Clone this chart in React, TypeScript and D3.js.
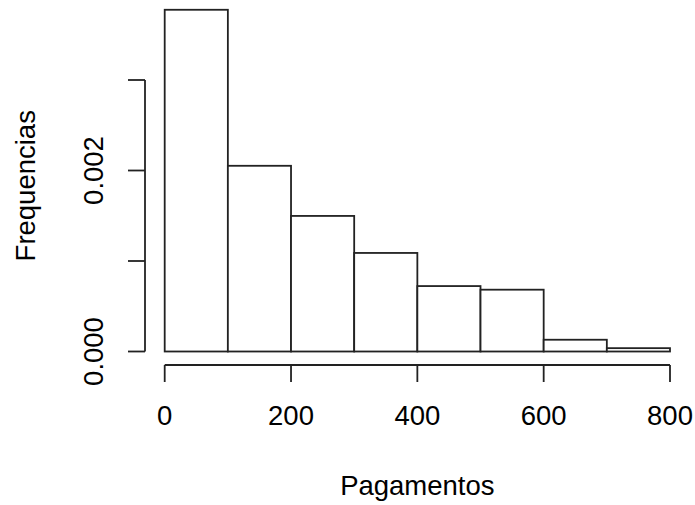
import React from "react";
import * as d3 from "d3";

const breaks = [0, 100, 200, 300, 400, 500, 600, 700, 800];
const density = [0.003776, 0.002052, 0.001498, 0.001089, 0.000723, 0.000683, 0.00013, 0.000037];
const xTicks = [0, 200, 400, 600, 800];
const yTicks = [0, 0.001, 0.002, 0.003];
const yLabels = [0, 0.002];
const xTitle = "Pagamentos";
const yTitle = "Frequencias";

export default function App() {
  const W = 695, H = 505;
  const x = d3.scaleLinear().domain([0, 800]).range([164.7, 670]);
  const y = d3.scaleLinear().domain([0, 0.003]).range([351.5, 80]);
  const font = "'Liberation Sans', Arial, Helvetica, sans-serif";
  const fs = 27.5;
  const stroke = "#222";
  const axisX = 145;
  const axisY = 365;
  const tick = 17;
  const bars = density.map((d, i) => ({ x0: breaks[i], x1: breaks[i + 1], d }));
  return (
    <svg width={W} height={H} style={{ position: "absolute", left: 0, top: 0, background: "#fff" }}
      fontFamily={font}>
      <rect x={0} y={0} width={W} height={H} fill="#fff" />
      {bars.map((b, i) => (
        <rect key={i} x={x(b.x0)} y={y(b.d)} width={x(b.x1) - x(b.x0)} height={y(0) - y(b.d)}
          fill="#fff" stroke={stroke} strokeWidth={1.8} />
      ))}
      {/* x axis */}
      <line x1={x(0)} x2={x(800)} y1={axisY} y2={axisY} stroke={stroke} strokeWidth={1.8} />
      {xTicks.map((t) => (
        <g key={t}>
          <line x1={x(t)} x2={x(t)} y1={axisY} y2={axisY + tick} stroke={stroke} strokeWidth={1.8} />
          <text x={x(t)} y={425} textAnchor="middle" fontSize={fs} fill="#000">{t}</text>
        </g>
      ))}
      {/* y axis */}
      <line x1={axisX} x2={axisX} y1={y(0)} y2={y(0.003)} stroke={stroke} strokeWidth={1.8} />
      {yTicks.map((t) => (
        <line key={t} x1={axisX - tick} x2={axisX} y1={y(t)} y2={y(t)} stroke={stroke} strokeWidth={1.8} />
      ))}
      {yLabels.map((t) => (
        <text key={t} transform={`translate(103,${y(t)}) rotate(-90)`} textAnchor="middle" fontSize={fs} fill="#000">
          {d3.format(".3f")(t)}
        </text>
      ))}
      <text x={(x(0) + x(800)) / 2} y={495} textAnchor="middle" fontSize={fs} fill="#000">{xTitle}</text>
      <text transform={`translate(35,${(y(0) + y(0.003)) / 2 - 30}) rotate(-90)`} textAnchor="middle" fontSize={fs} fill="#000">{yTitle}</text>
    </svg>
  );
}
